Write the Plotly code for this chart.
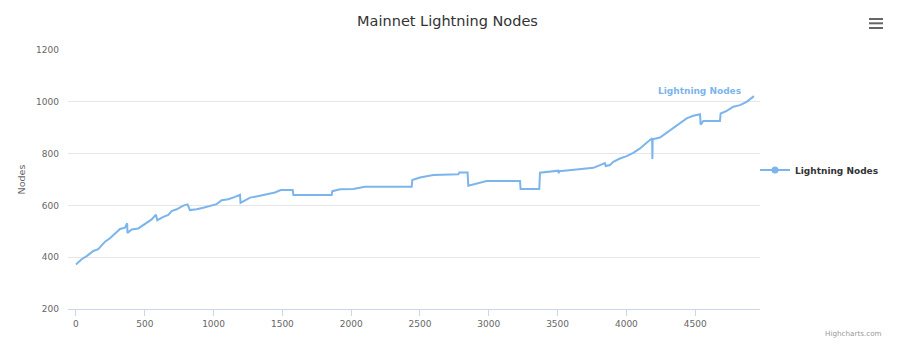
import plotly.graph_objects as go

# ---- data ----
day_index = [0, 41, 78, 126, 162, 211, 247, 283, 320, 356, 372, 374, 405, 453, 501, 550, 581, 591,
             635, 671, 695, 732, 780, 811, 828, 877, 925, 974, 1022, 1059, 1107, 1156, 1192, 1196,
             1265, 1337, 1410, 1446, 1488, 1575, 1580, 1858, 1863, 1919, 2015, 2100, 2440, 2444,
             2500, 2573, 2597, 2779, 2786, 2846, 2851, 2984, 3227, 3231, 3367, 3372, 3445, 3505,
             3508, 3512, 3638, 3760, 3844, 3850, 3881, 3905, 3953, 4002, 4050, 4099, 4147, 4187,
             4189, 4191, 4244, 4293, 4341, 4390, 4438, 4486, 4535, 4540, 4559, 4680, 4685, 4729,
             4777, 4826, 4874, 4927]
node_count = [372, 392, 404, 424, 431, 460, 473, 492, 509, 514, 531, 494, 507, 511, 527, 546, 564, 543,
              556, 563, 578, 585, 599, 604, 582, 585, 591, 599, 605, 620, 624, 633, 641, 610,
              630, 637, 646, 650, 659, 659, 640, 640, 655, 662, 663, 672, 672, 698,
              708, 714, 717, 720, 727, 727, 676, 694, 694, 663, 663, 726, 730, 734,
              724, 732, 739, 745, 763, 752, 756, 768, 781, 790, 803, 820, 842, 859,
              779, 855, 862, 880, 897, 916, 936, 946, 952, 912, 926, 926, 955, 965,
              981, 987, 1000, 1022]
series_name = "Lightning Nodes"
x_ticks = [0, 500, 1000, 1500, 2000, 2500, 3000, 3500, 4000, 4500]
y_ticks = [200, 400, 600, 800, 1000, 1200]

LINE = "#7cb5ec"
FONT = "DejaVu Sans"
W, H = 900, 346
L, R, T, B = 68, 760, 50, 309


def px_x(p):
    return (p - L) / (R - L)


def px_y(p):
    return (B - p) / (B - T)


fig = go.Figure()
fig.add_trace(go.Scatter(x=day_index, y=node_count, mode="lines", name=series_name,
                         line=dict(color=LINE, width=2), showlegend=False))
fig.add_trace(go.Scatter(x=[None], y=[None], mode="lines+markers", name=series_name,
                         line=dict(color=LINE, width=2), marker=dict(color=LINE, size=7),
                         showlegend=True))

fig.update_layout(
    width=W, height=H,
    margin=dict(l=L, r=W - R, t=T, b=H - B, pad=0),
    paper_bgcolor="white", plot_bgcolor="white",
    font=dict(family=FONT, color="#666666", size=9),
    title=dict(text="Mainnet Lightning Nodes", x=447.5 / W, xanchor="center",
               y=1 - 21 / H, yanchor="middle",
               font=dict(family=FONT, size=14.5, color="#333333")),
    showlegend=True,
    legend=dict(x=px_x(755), xanchor="left", y=px_y(170), yanchor="middle",
                font=dict(family=FONT, size=9, color="#333333", weight="bold"),
                bgcolor="rgba(0,0,0,0)", borderwidth=0),
    xaxis=dict(range=[-58, 4971], tickvals=x_ticks, ticktext=[str(v) for v in x_ticks],
               showgrid=False, zeroline=False, showline=True, linecolor="#ccd6eb", linewidth=1,
               ticks="outside", ticklen=6, tickcolor="#ccd6eb", tickwidth=1,
               tickfont=dict(family=FONT, size=9, color="#666666")),
    yaxis=dict(range=[200, 1200], tickvals=y_ticks, ticktext=[str(v) for v in y_ticks],
               showgrid=True, gridcolor="#e6e6e6", gridwidth=1, zeroline=False, showline=False,
               ticks="", tickfont=dict(family=FONT, size=9, color="#666666"),
               ticklabelstandoff=8,
               title=dict(text="Nodes", standoff=8, font=dict(family=FONT, size=9.5, color="#666666"))),
)

# series label at the end of the line
fig.add_annotation(x=4528, y=1041, xref="x", yref="y", text="<b>Lightning Nodes</b>",
                   showarrow=False, font=dict(family=FONT, size=9, color=LINE),
                   xanchor="center", yanchor="middle")

# credits
fig.add_annotation(x=px_x(884), y=px_y(333), xref="paper", yref="paper", text="Highcharts.com",
                   showarrow=False, font=dict(family=FONT, size=7.2, color="#999999"),
                   xanchor="right", yanchor="middle")

# context menu icon
for py in (19, 23.3, 28):
    fig.add_shape(type="line", xref="paper", yref="paper",
                  x0=px_x(869), x1=px_x(883), y0=px_y(py), y1=px_y(py),
                  line=dict(color="#666666", width=2))

fig.write_html("out.html")
